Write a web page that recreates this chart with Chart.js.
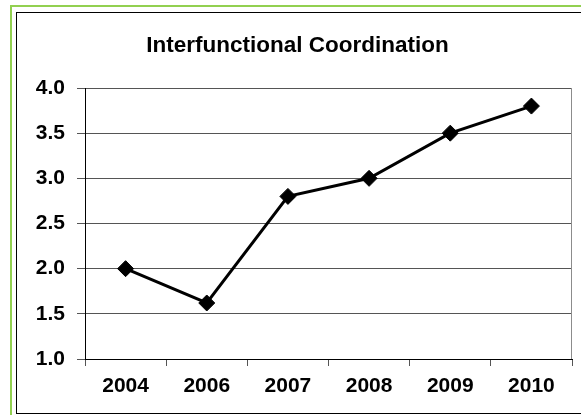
<!DOCTYPE html>
<html>
<head>
<meta charset="utf-8">
<script src="https://cdn.jsdelivr.net/npm/chart.js@4/dist/chart.umd.min.js"></script>
<style>
  html, body { margin: 0; padding: 0; background: #fff; }
  #wrap { position: relative; width: 581px; height: 415px; overflow: hidden; }
  #chart { position: absolute; left: 0; top: 0; }
  .frame { position: absolute; }
  #greenTop { left: 10px; top: 5px; width: 571px; height: 2px; background: #92d050; }
  #greenLeft { left: 10px; top: 5px; width: 2px; height: 410px; background: #92d050; }
  #blackTop { left: 16px; top: 12px; width: 565px; height: 1px; background: #000; }
  #blackLeft { left: 16px; top: 12px; width: 1px; height: 401px; background: #000; }
  #blackBottom { left: 16px; top: 413px; width: 565px; height: 1px; background: #000; }
</style>
</head>
<body>
<div id="wrap">
  <canvas id="chart" width="581" height="415"></canvas>
  <div class="frame" id="greenTop"></div>
  <div class="frame" id="greenLeft"></div>
  <div class="frame" id="blackTop"></div>
  <div class="frame" id="blackLeft"></div>
  <div class="frame" id="blackBottom"></div>
</div>
<script>
// Survey years and the mean interfunctional coordination score for each
const years = ['2004', '2006', '2007', '2008', '2009', '2010'];
const coordinationScores = [2.0, 1.62, 2.8, 3.0, 3.5, 3.8];
const yTickMin = 1.0;
const yTickMax = 4.0;
const yTickStep = 0.5;

const FONT = '"Liberation Sans", Arial, sans-serif';

// Thin grey line closing the plot area on the right
const plotBorder = {
  id: 'plotBorder',
  beforeDatasetsDraw(chart) {
    const { ctx, chartArea: a } = chart;
    ctx.save();
    ctx.strokeStyle = '#8c8c8c';
    ctx.lineWidth = 1;
    ctx.beginPath();
    ctx.moveTo(Math.round(a.right) - 0.5, a.top);
    ctx.lineTo(Math.round(a.right) - 0.5, a.bottom);
    ctx.stroke();
    ctx.restore();
  }
};

new Chart(document.getElementById('chart'), {
  type: 'line',
  data: {
    labels: years,
    datasets: [{
      data: coordinationScores,
      borderColor: '#000',
      backgroundColor: '#000',
      borderWidth: 3,
      pointStyle: 'rectRot',
      pointRadius: 8,
      pointBorderWidth: 1,
      pointBackgroundColor: '#000',
      pointBorderColor: '#000',
      tension: 0,
      fill: false
    }]
  },
  options: {
    responsive: false,
    animation: false,
    devicePixelRatio: 1,
    layout: { padding: { left: 16, right: 2, top: 32, bottom: 0 } },
    plugins: {
      legend: { display: false },
      tooltip: { enabled: false },
      title: {
        display: true,
        text: 'Interfunctional Coordination',
        color: '#000',
        font: { family: FONT, size: 22.5, weight: 'bold', lineHeight: 1.2 },
        padding: { top: 0, bottom: 29 }
      }
    },
    scales: {
      x: {
        offset: true,
        grid: {
          offset: true,
          drawOnChartArea: false,
          drawTicks: true,
          tickLength: 7,
          color: '#555',
          lineWidth: 1
        },
        border: { display: true, color: '#000', width: 1 },
        ticks: {
          color: '#000',
          padding: 8,
          font: { family: FONT, size: 21, weight: 'bold' },
          maxRotation: 0
        },
        afterFit(scale) { scale.height = 56; }
      },
      y: {
        min: yTickMin,
        max: yTickMax,
        grid: {
          color: '#555',
          lineWidth: 1,
          drawTicks: true,
          tickLength: 8
        },
        border: { display: true, color: '#000', width: 1 },
        ticks: {
          stepSize: yTickStep,
          color: '#000',
          padding: 12,
          font: { family: FONT, size: 21, weight: 'bold' },
          callback: (v) => Number(v).toFixed(1)
        },
        afterFit(scale) { scale.width = 69; }
      }
    }
  },
  plugins: [plotBorder]
});
</script>
</body>
</html>
